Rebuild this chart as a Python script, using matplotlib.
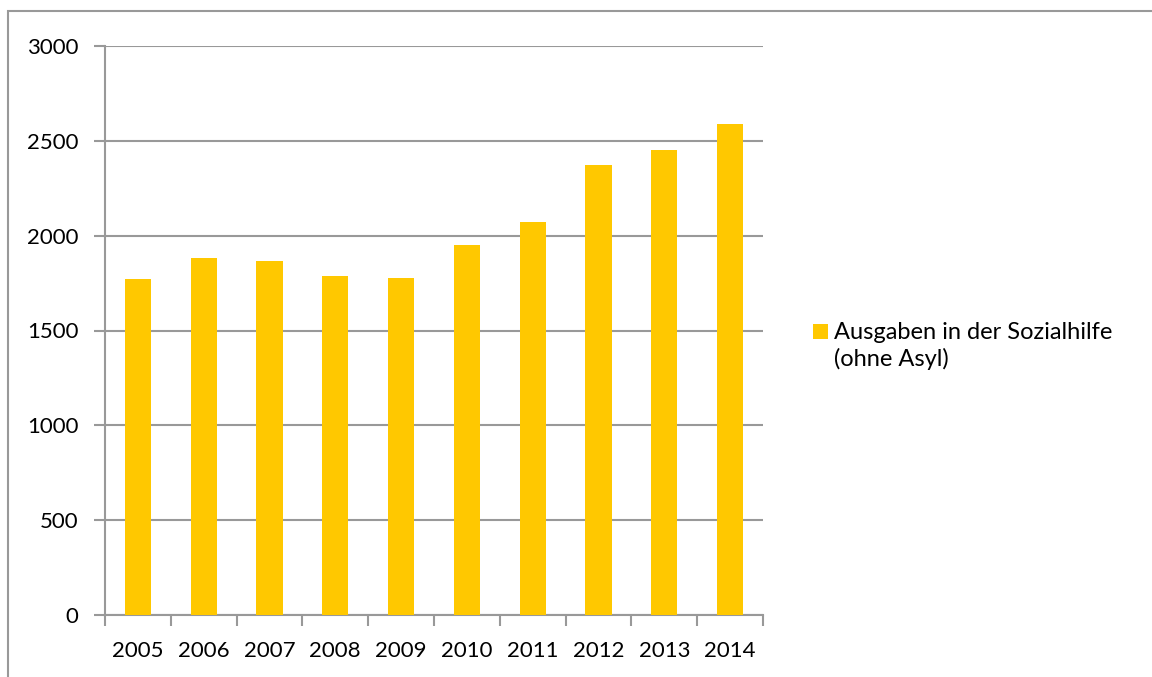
import matplotlib
matplotlib.use('Agg')
import matplotlib.pyplot as plt
from matplotlib.patches import Rectangle
import numpy as np

plt.rcParams['font.family'] = ['Lato', 'DejaVu Sans']

years = ['2005', '2006', '2007', '2008', '2009', '2010', '2011', '2012', '2013', '2014']
ausgaben = [1771, 1882, 1866, 1785, 1776, 1950, 2072, 2372, 2453, 2588]
y_ticks = [0, 500, 1000, 1500, 2000, 2500, 3000]
series_label = 'Ausgaben in der Sozialhilfe\n(ohne Asyl)'

bar_col = '#FFC800'
grid_col = '#999999'
W, H = 1152, 677

fig = plt.figure(figsize=(W/100, H/100), dpi=100)
ax = fig.add_axes([105/W, 1-615/H, (763-105)/W, (615-46)/H])

x = np.arange(len(years))
bars = ax.bar(x, ausgaben, width=0.4, color=bar_col, zorder=3)

ax.set_xlim(-0.5, len(years)-0.5)
ax.set_ylim(0, 3000)
ax.set_yticks(y_ticks)
ax.yaxis.grid(True, color=grid_col, linewidth=1.5, zorder=0)
ax.set_xticks(x)
ax.set_xticklabels(years)
ax.set_xticks(np.arange(-0.5, len(years)), minor=True)
ax.tick_params(axis='x', which='major', length=0, pad=19, labelsize=16)
ax.tick_params(axis='x', which='minor', length=8, width=1.5, color=grid_col)
ax.tick_params(axis='y', length=8, width=1.5, color=grid_col, pad=11, labelsize=16)

for s in ['top', 'right']:
    ax.spines[s].set_visible(False)
for s in ['left', 'bottom']:
    ax.spines[s].set_color(grid_col)
    ax.spines[s].set_linewidth(1.5)

# legend: square aligned with first text line
fig.patches.append(Rectangle((813/W, 1-339/H), 15/W, 15/H, transform=fig.transFigure,
                             facecolor=bar_col, edgecolor='none'))
fig.text(834/W, 1-322/H, series_label, fontsize=17, va='top', ha='left',
         linespacing=1.25)

# outer chart border
fig.patches.append(Rectangle((8/W, -0.1), 1.2, 1-11/H+0.1,
                             transform=fig.transFigure, fill=False,
                             edgecolor=grid_col, linewidth=1.5))

fig.savefig('out.png', dpi=100)
